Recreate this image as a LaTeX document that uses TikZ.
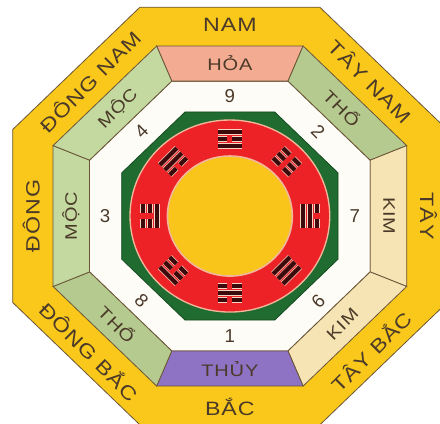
\documentclass[tikz,border=0pt]{standalone}
\usepackage{fontspec}
\setmainfont{Liberation Sans}
\newfontfamily\widefont{Liberation Sans}[FakeStretch=1.2,LetterSpace=5]
\usetikzlibrary{calc}
\definecolor{bandyellow}{HTML}{F9C81A}
\definecolor{inkbrown}{HTML}{4B3A2A}
\definecolor{edgebrown}{HTML}{6B5538}
\definecolor{hoapink}{HTML}{F3AC92}
\definecolor{mocgreen}{HTML}{C3D9A0}
\definecolor{thogreen}{HTML}{B5CA8E}
\definecolor{kimcream}{HTML}{F7E4B4}
\definecolor{thuypurple}{HTML}{8E72C4}
\definecolor{octgreen}{HTML}{1F6B30}
\definecolor{ringred}{HTML}{EC2227}
\definecolor{rimpeach}{HTML}{F2B79A}
\definecolor{discyellow}{HTML}{F9C51B}
\definecolor{innerwhite}{HTML}{FDFCF7}
\definecolor{yaodark}{HTML}{3C0A0A}
\definecolor{yaorim}{HTML}{F6D2C2}

% one line of a trigram: offset, 1 = solid, 0 = broken
\newcommand{\yao}[2]{%
  \ifnum#2=1\relax
    \draw[yaoline] (-11.5,#1) -- (11.5,#1);
  \else
    \draw[yaoline] (-11.5,#1) -- (-2.5,#1);
    \draw[yaoline] (2.5,#1) -- (11.5,#1);
  \fi}
% trigram: angle, inner, middle, outer line
\newcommand{\gua}[4]{%
  \begin{scope}[shift={(#1:77)}, rotate=#1-90]
    \yao{-7}{#2}
    \yao{0}{#3}
    \yao{7}{#4}
  \end{scope}}

\begin{document}
\begin{tikzpicture}[
  x=0.78pt, y=0.75pt,
  dirlabel/.style={font=\widefont\fontsize{14.5}{16}\selectfont,
    text=inkbrown, inner sep=0pt},
  elemlabel/.style={font=\widefont\fontsize{12.5}{14}\selectfont,
    text=inkbrown, inner sep=0pt},
  numlabel/.style={font=\fontsize{14}{16}\selectfont,
    text=inkbrown, inner sep=0pt},
  segment/.style={draw=edgebrown, line width=0.6pt},
  yaoline/.style={draw=yaorim, double=yaodark, double distance=3.2pt,
    line width=0.5pt},
]

% Frame
\path[use as bounding box] (-221,-207) rectangle (202,216);
\clip (-221,-207) rectangle (202,216);

% Outer band (directions)
\filldraw[segment, fill=bandyellow] (22.5:226) -- (67.5:226) -- (112.5:226)
  -- (157.5:226) -- (202.5:226) -- (247.5:226) -- (292.5:226)
  -- (337.5:226) -- cycle;

% Inner white band (numbers)
\filldraw[segment, fill=innerwhite] (22.5:146) -- (67.5:146) -- (112.5:146)
  -- (157.5:146) -- (202.5:146) -- (247.5:146) -- (292.5:146)
  -- (337.5:146) -- cycle;

% =============================================
% Element band
% =============================================
\filldraw[segment, fill=hoapink]    (67.5:146) -- (112.5:146) -- (112.5:184) -- (67.5:184) -- cycle;
\filldraw[segment, fill=thogreen]   (22.5:146) -- (67.5:146) -- (67.5:184) -- (22.5:184) -- cycle;
\filldraw[segment, fill=kimcream]   (-22.5:146) -- (22.5:146) -- (22.5:184) -- (-22.5:184) -- cycle;
\filldraw[segment, fill=kimcream]   (-67.5:146) -- (-22.5:146) -- (-22.5:184) -- (-67.5:184) -- cycle;
\filldraw[segment, fill=thuypurple] (-112.5:146) -- (-67.5:146) -- (-67.5:184) -- (-112.5:184) -- cycle;
\filldraw[segment, fill=thogreen]   (-157.5:146) -- (-112.5:146) -- (-112.5:184) -- (-157.5:184) -- cycle;
\filldraw[segment, fill=mocgreen]   (157.5:146) -- (202.5:146) -- (202.5:184) -- (157.5:184) -- cycle;
\filldraw[segment, fill=mocgreen]   (112.5:146) -- (157.5:146) -- (157.5:184) -- (112.5:184) -- cycle;

% =============================================
% Centre: green octagon, red ring, yellow disc
% =============================================
\filldraw[draw=octgreen!70!black, line width=0.6pt, fill=octgreen]
  (22.5:112.6) -- (67.5:112.6) -- (112.5:112.6) -- (157.5:112.6)
  -- (202.5:112.6) -- (247.5:112.6) -- (292.5:112.6) -- (337.5:112.6) -- cycle;
\filldraw[draw=rimpeach, line width=1pt, fill=ringred] (0,0) circle [radius=96];
\filldraw[draw=rimpeach, line width=1.2pt, fill=discyellow] (0,0) circle [radius=60];

% Trigrams
\gua{90}{1}{0}{1}
\gua{45}{0}{0}{0}
\gua{0}{1}{1}{0}
\gua{-45}{1}{1}{1}
\gua{-90}{0}{1}{0}
\gua{-135}{0}{0}{1}
\gua{180}{1}{0}{0}
\gua{135}{0}{1}{1}

% Directions
\node[dirlabel] (nam)     at (90:191)   {NAM};
\node[dirlabel, rotate=-45] (taynam) at (45:191) {TÂY NAM};
\node[dirlabel, rotate=-90] (tay)    at (0:191)  {TÂY};
\node[dirlabel, rotate=45]  (taybac) at (-45:191) {TÂY BẮC};
\node[dirlabel] (bac)     at (-90:191)  {BẮC};
\node[dirlabel, rotate=-45] (dongbac) at (-135:191) {ĐÔNG BẮC};
\node[dirlabel, rotate=90]  (dong)    at (180:191)  {ĐÔNG};
\node[dirlabel, rotate=45]  (dongnam) at (135:191)  {ĐÔNG NAM};

% Elements
\node[elemlabel] (hoa)     at (90:153)   {HỎA};
\node[elemlabel, rotate=-45] (thoa) at (45:153)  {THỔ};
\node[elemlabel, rotate=-90] (kima) at (0:153)   {KIM};
\node[elemlabel, rotate=45]  (kimb) at (-45:153) {KIM};
\node[elemlabel] (thuy)    at (-90:153)  {THỦY};
\node[elemlabel, rotate=-45] (thob) at (-135:153) {THỔ};
\node[elemlabel, rotate=90]  (moca) at (180:153)  {MỘC};
\node[elemlabel, rotate=45]  (mocb) at (135:153)  {MỘC};

% Numbers
\node[numlabel] (n9) at (90:120) {9};
\node[numlabel, rotate=-45] (n2) at (45:120) {2};
\node[numlabel] (n7) at (0:120) {7};
\node[numlabel, rotate=45] (n6) at (-45:120) {6};
\node[numlabel] (n1) at (-90:120) {1};
\node[numlabel, rotate=-45] (n8) at (-135:120) {8};
\node[numlabel] (n3) at (180:120) {3};
\node[numlabel, rotate=45] (n4) at (135:120) {4};

\end{tikzpicture}
\end{document}
